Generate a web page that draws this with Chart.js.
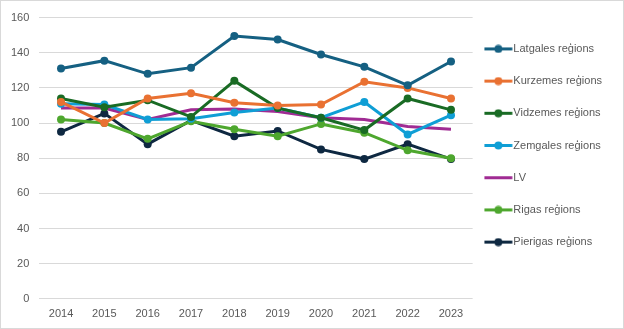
<!DOCTYPE html>
<html lang="lv">
<head>
    <meta charset="UTF-8">
    <title>Reģionu indeksi</title>
    <script src="https://cdn.jsdelivr.net/npm/chart.js"></script>
    <style>
        body { margin: 0; background: #fff; }
        .grafika {
            width: 622px;
            height: 327px;
            border: 1px solid #d9d9d9;
            position: relative;
        }
    </style>
</head>
<body>
    <div class="grafika">
        <canvas id="myChart"></canvas>
    </div>
    <script>
        // Dati pa gadiem
        const gadi = ['2014', '2015', '2016', '2017', '2018', '2019', '2020', '2021', '2022', '2023'];
        const latgales = [131, 135.5, 128, 131.5, 149.5, 147.5, 139, 132, 121.5, 135];
        const kurzemes = [112, 100, 114, 117, 111.5, 110, 110.5, 123.5, 120, 114];
        const vidzemes = [114, 109, 113, 103.5, 124, 108.5, 103, 96, 114, 107.5];
        const zemgales = [111, 110.5, 102, 102.5, 106, 108.5, 103, 112, 93.5, 104.5];
        const lv = [108.5, 108.5, 102, 107.5, 108, 106.5, 103, 102, 98, 96.5];
        const rigas = [102, 100, 91, 101, 96.5, 92.5, 99.5, 94.5, 84.5, 80];
        const pierigas = [95, 105.5, 88, 101.5, 92.5, 95.5, 85, 79.5, 88, 79.5];
        const yTicks = [0, 20, 40, 60, 80, 100, 120, 140, 160];

        const krasas = ['#156082', '#E97132', '#196B24', '#0F9ED5', '#A02B93', '#4EA72E', '#0E2841'];

        // Leģendas ikona: līnija ar punktu vidū (audekls platāks, lai ikona nobīdītos pa kreisi)
        function ikona(krasa, arPunktu) {
            const c = document.createElement('canvas');
            c.width = 34;
            c.height = 9;
            const ctx = c.getContext('2d');
            ctx.strokeStyle = krasa;
            ctx.lineWidth = 3;
            ctx.beginPath();
            ctx.moveTo(0.5, 4.5);
            ctx.lineTo(28.5, 4.5);
            ctx.stroke();
            if (arPunktu) {
                ctx.fillStyle = krasa;
                ctx.beginPath();
                ctx.arc(14.5, 4.5, 4, 0, Math.PI * 2);
                ctx.fill();
            }
            return c;
        }

        function serija(nosaukums, dati, krasa, arPunktiem) {
            return {
                label: nosaukums,
                data: dati,
                borderColor: krasa,
                backgroundColor: krasa,
                borderWidth: 3,
                pointRadius: arPunktiem ? 4 : 0,
                pointHoverRadius: arPunktiem ? 4 : 0,
                pointBorderWidth: 0,
                tension: 0,
                ikona: ikona(krasa, arPunktiem)
            };
        }

        const fonts = { family: 'Liberation Sans', size: 11 };

        const config = {
            type: 'line',
            data: {
                labels: gadi,
                datasets: [
                    serija('Latgales reģions', latgales, krasas[0], true),
                    serija('Kurzemes reģions', kurzemes, krasas[1], true),
                    serija('Vidzemes reģions', vidzemes, krasas[2], true),
                    serija('Zemgales reģions', zemgales, krasas[3], true),
                    serija('LV', lv, krasas[4], false),
                    serija('Rigas reģions', rigas, krasas[5], true),
                    serija('Pierigas reģions', pierigas, krasas[6], true)
                ]
            },
            options: {
                responsive: true,
                maintainAspectRatio: false,
                animation: false,
                layout: { padding: { top: 4, right: 11, bottom: 6, left: 0 } },
                plugins: {
                    tooltip: { enabled: false },
                    legend: {
                        position: 'right',
                        align: 'start',
                        // tukšs virsraksts tikai nobīda ierakstus uz leju
                        title: { display: true, text: ' ', font: { size: 1 }, padding: { top: 8, bottom: 8 } },
                        labels: {
                            usePointStyle: true,
                            pointStyleWidth: 14,
                            padding: 21.2,
                            color: '#595959',
                            font: fonts,
                            generateLabels(chart) {
                                return chart.data.datasets.map((ds, i) => ({
                                    text: ds.label,
                                    fillStyle: ds.borderColor,
                                    strokeStyle: ds.borderColor,
                                    fontColor: '#595959',
                                    lineWidth: 0,
                                    pointStyle: ds.ikona,
                                    hidden: false,
                                    datasetIndex: i
                                }));
                            }
                        }
                    }
                },
                scales: {
                    x: {
                        offset: true,
                        grid: { display: false },
                        border: { display: false },
                        ticks: {
                            color: '#595959',
                            font: fonts,
                            maxRotation: 0,
                            padding: 1
                        }
                    },
                    y: {
                        min: 0,
                        max: 160,
                        afterBuildTicks(axis) {
                            axis.ticks = yTicks.map(v => ({ value: v }));
                        },
                        grid: { color: '#d9d9d9', lineWidth: 1, drawTicks: false },
                        border: { display: false },
                        ticks: {
                            color: '#595959',
                            font: fonts,
                            padding: 10
                        }
                    }
                }
            }
        };

        new Chart(document.getElementById('myChart'), config);
    </script>
</body>
</html>
